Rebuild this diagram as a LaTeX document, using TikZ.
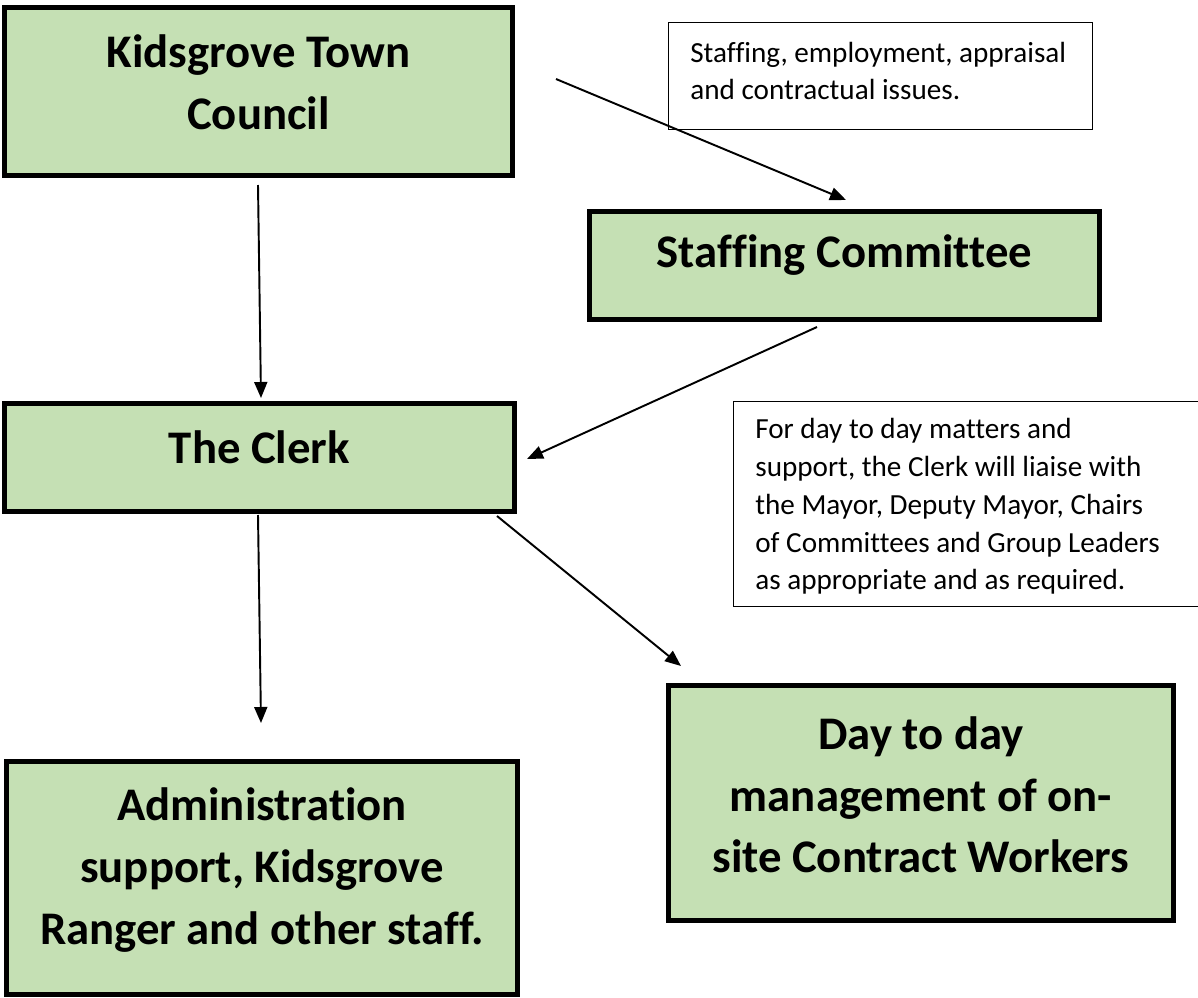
\documentclass[tikz,border=0pt]{standalone}
\usepackage{fontspec}
\setmainfont[Ligatures=NoCommon]{Carlito}
\usetikzlibrary{arrows.meta}

\definecolor{boxgreen}{HTML}{C5E0B4}

\tikzset{
    greenbox/.style={draw=black, fill=boxgreen, line width=2.8pt, inner sep=0pt},
    notebox/.style={draw=black, fill=white, line width=0.8pt, inner sep=0pt},
    bigtext/.style={align=center, inner sep=0pt, font=\fontsize{26.6}{35.1}\selectfont\bfseries},
    notetext/.style={align=left, inner sep=0pt, font=\fontsize{16.6}{21.5}\selectfont},
    link/.style={line width=1.1pt, -{Triangle[length=0.32cm, width=0.26cm]}}
}

\begin{document}
\begin{tikzpicture}[x=0.02cm, y=-0.02cm]
    % Canvas, the second note runs off the right edge
    \clip (0,0) rectangle (1198,998);
    \fill[white] (0,0) rectangle (1198,998);

    % Draw the green boxes
    \node[greenbox, minimum width=10.16cm, minimum height=3.36cm] (ktc) at (258.5,91.5) {};
    \node[bigtext] (ktc-label) at (258.5,82) {Kidsgrove Town\\Council};

    \node[greenbox, minimum width=10.2cm, minimum height=2.16cm] (staff) at (844.5,265.5) {};
    \node[bigtext] (staff-label) at (844.5,255) {Staffing Committee};

    \node[greenbox, minimum width=10.2cm, minimum height=2.16cm] (clerk) at (259.5,457.5) {};
    \node[bigtext] (clerk-label) at (259.5,447) {The Clerk};

    \node[greenbox, minimum width=10.22cm, minimum height=4.66cm] (admin) at (262,878) {};
    \node[bigtext] (admin-label) at (262,870) {Administration\\support, Kidsgrove\\Ranger and other staff.};

    \node[greenbox, minimum width=10.1cm, minimum height=4.7cm] (day) at (921,803) {};
    \node[bigtext] (day-label) at (921,795) {Day to day\\management of on-\\site Contract Workers};

    % Draw the two notes
    \node[notebox, minimum width=8.48cm, minimum height=2.14cm] (note-staff) at (880.5,76) {};
    \node[notetext, anchor=west] (note-staff-text) at (690,71) {Staffing, employment, appraisal\\and contractual issues.};

    \node[notebox, minimum width=9.52cm, minimum height=4.1cm] (note-clerk) at (971.5,504) {};
    \node[notetext, anchor=west] (note-clerk-text) at (755,506.5) {For day to day matters and\\support, the Clerk will liaise with\\the Mayor, Deputy Mayor, Chairs\\of Committees and Group Leaders\\as appropriate and as required.};

    % Arrow ends, they stop short of the boxes
    \coordinate (ktc-down) at (258,185);
    \coordinate (ktc-right) at (556,79);
    \coordinate (staff-top) at (846,200);
    \coordinate (staff-bottom) at (817,327);
    \coordinate (clerk-top) at (261,398);
    \coordinate (clerk-right) at (527,459);
    \coordinate (clerk-down) at (258,515);
    \coordinate (clerk-corner) at (497,516);
    \coordinate (admin-top) at (261,723);
    \coordinate (day-top) at (681,666);

    % Draw the arrows
    \draw[link] (ktc-down) -- (clerk-top);
    \draw[link] (ktc-right) -- (staff-top);
    \draw[link] (staff-bottom) -- (clerk-right);
    \draw[link] (clerk-down) -- (admin-top);
    \draw[link] (clerk-corner) -- (day-top);

\end{tikzpicture}
\end{document}
